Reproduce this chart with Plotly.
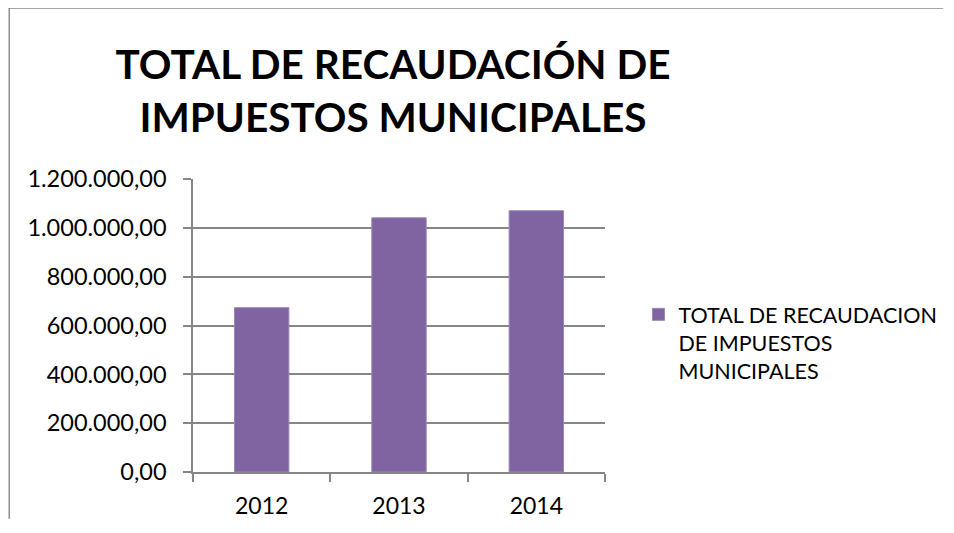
import plotly.graph_objects as go

years = ["2012", "2013", "2014"]
values = [673000, 1041000, 1070000]
series_name = "TOTAL DE RECAUDACION<br>DE IMPUESTOS<br>MUNICIPALES"
title_text = "TOTAL DE RECAUDACIÓN DE<br>IMPUESTOS MUNICIPALES"
y_ticks = [0, 200000, 400000, 600000, 800000, 1000000, 1200000]

# page body has an 8px margin; work in reference-window coordinates
OFF = 8
W, H = 954 - 2 * OFF - 2, 533 - 2 * OFF - 6
PL, PR, PT, PB = 193 - OFF, 605.5 - OFF, 179 - OFF, 472.3 - OFF
L, R, T, B = PL, W - PR, PT, H - PB
pw, ph = PR - PL, PB - PT

def px(x):
    return (x - OFF - PL) / pw

def py(y):
    return (PB - (y - OFF)) / ph

FONT = "Lato"
GRID = "#868686"
BORDER = "#878787"

fig = go.Figure()
fig.add_trace(go.Bar(
    x=years, y=values, name=series_name,
    marker=dict(color="#8064A2", line=dict(color="#9A86B8", width=1)),
    showlegend=True,
))

fig.update_layout(
    width=W, height=H,
    margin=dict(l=L, r=R, t=T, b=B, autoexpand=False),
    paper_bgcolor="white", plot_bgcolor="white",
    separators=",.",
    bargap=0.604,
    font=dict(family=FONT, color="black"),
    title=dict(
        text=title_text,
        font=dict(family=FONT, size=40.5, weight="bold", color="black"),
        x=(393 - OFF) / W, xref="container", xanchor="center",
        y=1 - (79 - OFF) / H, yref="container", yanchor="middle",
    ),
    xaxis=dict(
        type="category",
        showline=True, linecolor=GRID, linewidth=1.5,
        ticks="outside", tickson="boundaries", ticklen=8, tickcolor=GRID, tickwidth=1.5,
        tickfont=dict(family=FONT, size=23, color="black"),
        ticklabelstandoff=13,
        showgrid=False,
    ),
    yaxis=dict(
        range=[0, 1200000],
        tickvals=y_ticks,
        tickformat=",.2f",
        showline=True, linecolor=GRID, linewidth=1.5,
        ticks="outside", ticklen=8, tickcolor=GRID, tickwidth=1.5,
        showgrid=True, gridcolor=GRID, gridwidth=1.5,
        zeroline=False,
        tickfont=dict(family=FONT, size=23.5, color="black"),
        ticklabelstandoff=12,
    ),
    legend=dict(
        x=px(639), y=py(294), xanchor="left", yanchor="top",
        valign="top",
        font=dict(family=FONT, size=21.5, color="black"),
        itemwidth=30,
        bgcolor="rgba(0,0,0,0)",
    ),
    shapes=[
        dict(type="rect", xref="paper", yref="paper",
             x0=px(8.3), x1=px(W + OFF), y0=py(8.7), y1=py(7.3),
             fillcolor=BORDER, line=dict(width=0), layer="below"),
        dict(type="rect", xref="paper", yref="paper",
             x0=px(8.3), x1=px(9.7), y0=py(H + OFF), y1=py(7.3),
             fillcolor=BORDER, line=dict(width=0), layer="below"),
    ],
)

fig.write_html("out.html")
